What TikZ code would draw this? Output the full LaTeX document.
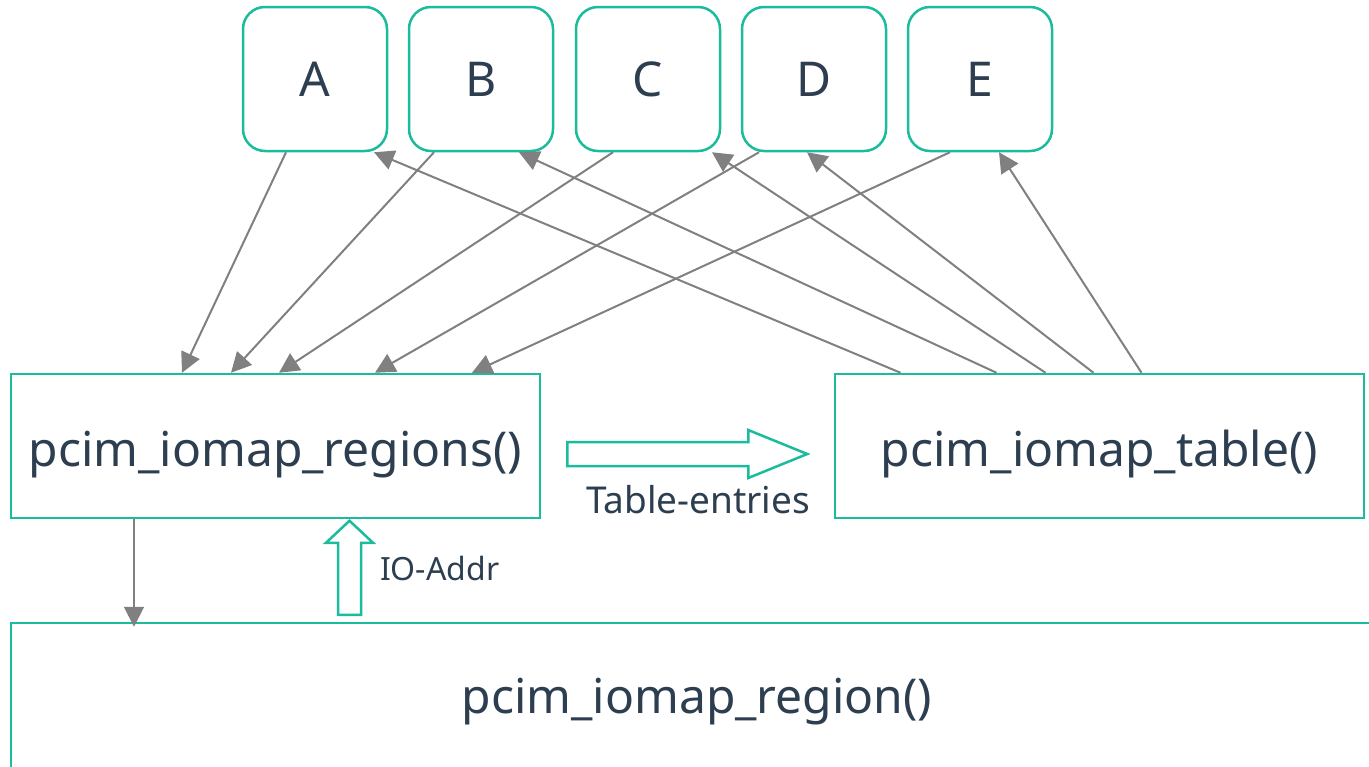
\documentclass[tikz,border=0pt]{standalone}
\usepackage{fontspec}
\setmainfont{Noto Sans}
\usetikzlibrary{calc, positioning, arrows.meta}
\definecolor{boxgreen}{RGB}{26,188,156}
\definecolor{inkblue}{RGB}{44,62,80}
\definecolor{linegray}{RGB}{128,128,128}

\tikzset{
    fnbox/.style={draw=boxgreen, line width=1.25pt, fill=white, text=inkblue,
        inner sep=0pt, font=\fontsize{24}{28}\selectfont, text height=26pt, text depth=6pt},
    letterbox/.style={fnbox, rounded corners=11pt, minimum width=72pt, minimum height=72pt,
        text height=, text depth=},
    callarrow/.style={draw=linegray, line width=1pt, -{Triangle[length=10pt, width=10pt]}},
    hollowarrow/.style={draw=boxgreen, line width=1.25pt, fill=white},
}

\begin{document}
\begin{tikzpicture}[x=0.5pt, y=-0.5pt]
    \useasboundingbox (0,0) rectangle (1369,766);
    \clip (0,0) rectangle (1369,766);

    % the five callers on top
    \foreach \name/\xpos in {A/315, B/481, C/648, D/814, E/980}
        \node (\name) [letterbox] at (\xpos,79) {\name};

    \node (regions) [fnbox, minimum width=264.5pt, minimum height=72pt] at (275.5,446) {pcim\_iomap\_regions()};
    \node (table) [fnbox, minimum width=264.5pt, minimum height=72pt] at (1099.5,446) {pcim\_iomap\_table()};
    \node (region) [fnbox, minimum width=686pt, minimum height=75pt, text height=21pt] at (697,698) {pcim\_iomap\_region()};

    % calls down into pcim_iomap_regions()
    \draw [callarrow] ($(A.south)+(-29,0)$) -- ($(regions.north)+(-93.5,0)$);
    \draw [callarrow] ($(B.south)+(-47,0)$) -- ($(regions.north)+(-44.5,0)$);
    \draw [callarrow] ($(C.south)+(-35,0)$) -- ($(regions.north)+(3.5,0)$);
    \draw [callarrow] ($(D.south)+(-55,0)$) -- ($(regions.north)+(99.5,0)$);
    \draw [callarrow] ($(E.south)+(-30,0)$) -- ($(regions.north)+(196.5,0)$);

    % table handed back up
    \draw [callarrow] ($(table.north)+(-199,0)$) -- ($(A.south)+(59,0)$);
    \draw [callarrow] ($(table.north)+(-103,0)$) -- ($(B.south)+(38,0)$);
    \draw [callarrow] ($(table.north)+(-54,0)$)  -- ($(C.south)+(64,0)$);
    \draw [callarrow] ($(table.north)+(-6,0)$)   -- ($(D.south)+(-7,0)$);
    \draw [callarrow] ($(table.north)+(42,0)$)   -- ($(E.south)+(19,0)$);

    \draw [callarrow, shorten >=-2.5pt] ($(regions.south)+(-141.5,0)$) -- ($(region.north)+(-563,0)$);

    % hollow data arrows
    \coordinate (tailright) at ($(regions.east)+(26,8)$);
    \draw [hollowarrow] (tailright) ++(0,-12) -- ++(181,0) -- ++(0,-12) -- ++(59,24)
        -- ++(-59,24) -- ++(0,-12) -- ++(-181,0) -- cycle;
    \node (entries) [text=inkblue, font=\fontsize{18.5}{22}\selectfont] at (698,500) {Table-entries};

    \coordinate (tailup) at ($(region.north)+(-347.5,-7)$);
    \draw [hollowarrow] (tailup) ++(-11.5,0) -- ++(0,-72) -- ++(-12,0) -- ++(23.5,-22)
        -- ++(23.5,22) -- ++(-12,0) -- ++(0,72) -- cycle;
    \node (ioaddr) [text=inkblue, font=\fontsize{16}{19}\selectfont, anchor=west] at (373,568) {IO-Addr};
\end{tikzpicture}
\end{document}
